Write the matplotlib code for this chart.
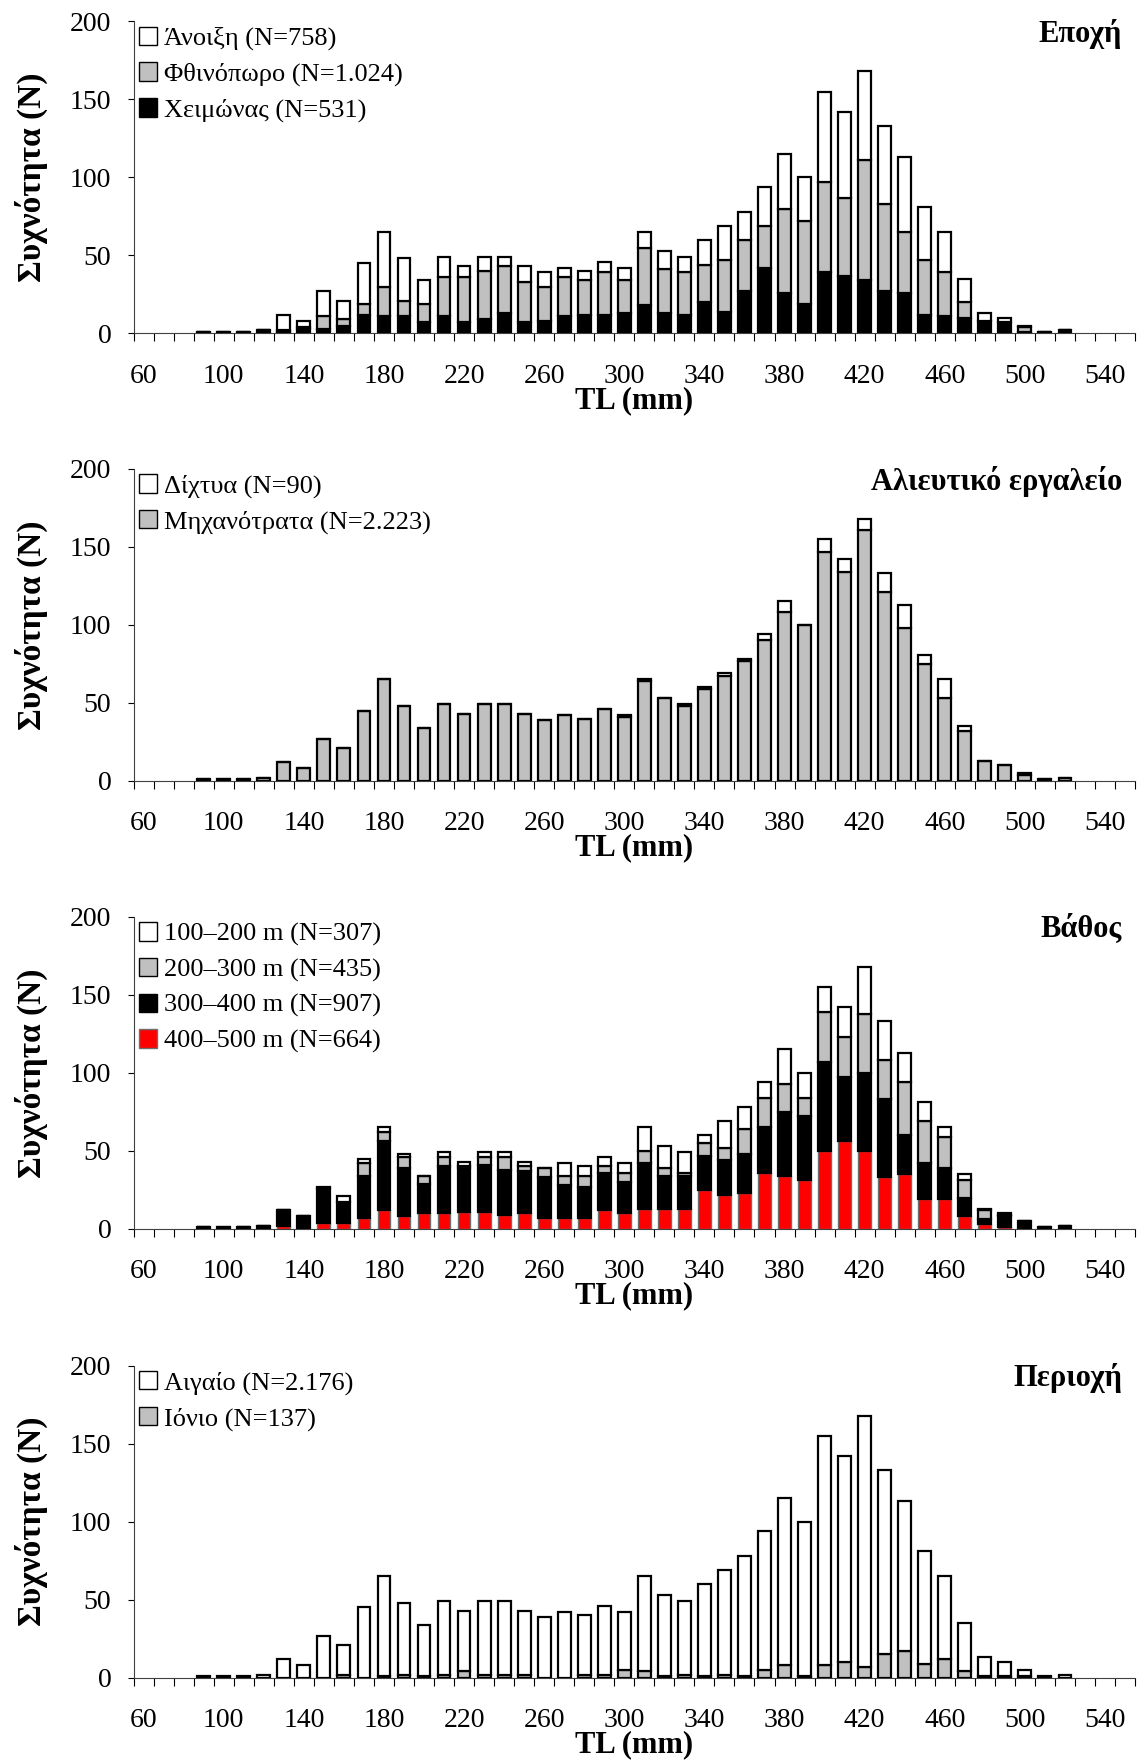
import numpy as np
import matplotlib
matplotlib.use("Agg")
import matplotlib.pyplot as plt

plt.rcParams['font.family'] = ['Liberation Serif', 'DejaVu Serif']

# length classes (mm), 10 mm bins
tl = np.arange(90, 530, 10)
axis_labels = [60, 100, 140, 180, 220, 260, 300, 340, 380, 420, 460, 500, 540]

# Season
winter = [1, 1, 1, 2, 1, 3, 3, 5, 12, 11, 11, 7, 11, 7, 9, 13, 7, 8, 11, 12, 12, 13,
          18, 13, 12, 20, 14, 27, 42, 26, 19, 39, 37, 34, 27, 26, 12, 11, 10, 8, 7, 1, 1, 2]
autumn = [0, 0, 0, 0, 1, 1, 8, 4, 7, 19, 10, 12, 25, 29, 31, 30, 26, 22, 25, 22, 27, 21,
          37, 28, 27, 24, 33, 33, 27, 54, 53, 58, 50, 77, 56, 39, 35, 28, 10, 0, 0, 3, 0, 0]
spring = [0, 0, 0, 0, 10, 4, 16, 12, 26, 35, 27, 15, 13, 7, 9, 6, 10, 9, 6, 6, 7, 8,
          10, 12, 10, 16, 22, 18, 25, 35, 28, 58, 55, 57, 50, 48, 34, 26, 15, 5, 3, 1, 0, 0]

# Fishing gear
trawl = [1, 1, 1, 2, 12, 8, 27, 21, 45, 65, 48, 34, 49, 43, 49, 49, 43, 39, 42, 40, 46, 41,
         64, 53, 48, 59, 67, 77, 90, 108, 100, 147, 134, 161, 121, 98, 75, 53, 32, 13, 10, 4, 1, 2]
nets = [0, 0, 0, 0, 0, 0, 0, 0, 0, 0, 0, 0, 0, 0, 0, 0, 0, 0, 0, 0, 0, 1,
        1, 0, 1, 1, 2, 1, 4, 7, 0, 8, 8, 7, 12, 15, 6, 12, 3, 0, 0, 1, 0, 0]

# Depth
d400 = [0, 0, 0, 0, 2, 0, 4, 4, 7, 12, 8, 10, 10, 11, 11, 9, 10, 7, 7, 7, 12, 10,
        13, 13, 13, 25, 22, 23, 36, 34, 31, 50, 56, 50, 33, 35, 19, 19, 8, 3, 1, 0, 0, 0]
d300 = [1, 0, 1, 2, 10, 8, 22, 13, 27, 44, 31, 19, 30, 28, 30, 29, 27, 26, 21, 20, 24, 20,
        29, 21, 21, 22, 22, 25, 29, 41, 41, 57, 41, 50, 50, 25, 23, 20, 12, 3, 7, 5, 1, 2]
d200 = [0, 1, 0, 0, 0, 0, 0, 0, 8, 6, 7, 5, 6, 1, 5, 8, 3, 6, 6, 7, 4, 6,
        8, 5, 2, 8, 8, 16, 19, 18, 12, 32, 26, 38, 25, 34, 27, 20, 11, 6, 1, 0, 0, 0]
d100 = [0, 0, 0, 0, 0, 0, 1, 4, 3, 3, 2, 0, 3, 3, 3, 3, 3, 0, 8, 6, 6, 6,
        15, 14, 13, 5, 17, 14, 10, 22, 16, 16, 19, 30, 25, 19, 12, 6, 4, 1, 1, 0, 0, 0]

# Area
ionian = [0, 0, 0, 0, 0, 0, 0, 2, 0, 1, 2, 1, 2, 4, 2, 2, 2, 0, 0, 2, 2, 5,
          4, 1, 2, 1, 2, 1, 5, 8, 1, 8, 10, 7, 15, 17, 9, 12, 4, 1, 1, 1, 0, 0]
aegean = [1, 1, 1, 2, 12, 8, 27, 19, 45, 64, 46, 33, 47, 39, 47, 47, 41, 39, 42, 38, 44, 37,
          61, 52, 47, 59, 67, 77, 89, 107, 99, 147, 132, 161, 118, 96, 72, 53, 31, 12, 9, 4, 1, 2]

GRAY = '#c0c0c0'
RED = '#ff0000'

panels = [
    ("Εποχή",
     [(winter, '#000000', 'black', "Χειμώνας (N=531)"),
      (autumn, GRAY, 'black', "Φθινόπωρο (N=1.024)"),
      (spring, 'white', 'black', "Άνοιξη (N=758)")]),
    ("Αλιευτικό εργαλείο",
     [(trawl, GRAY, 'black', "Μηχανότρατα (N=2.223)"),
      (nets, 'white', 'black', "Δίχτυα (N=90)")]),
    ("Βάθος",
     [(d400, RED, '#6e6e6e', "400–500 m (N=664)"),
      (d300, '#000000', 'black', "300–400 m (N=907)"),
      (d200, GRAY, 'black', "200–300 m (N=435)"),
      (d100, 'white', 'black', "100–200 m (N=307)")]),
    ("Περιοχή",
     [(ionian, GRAY, 'black', "Ιόνιο (N=137)"),
      (aegean, 'white', 'black', "Αιγαίο (N=2.176)")]),
]

fig = plt.figure(figsize=(11.39, 17.6), dpi=100)
bottoms = [0.8106, 0.5563, 0.3018, 0.0468]

for (title, series), b in zip(panels, bottoms):
    ax = fig.add_axes([0.1173, b, 0.8792, 0.1773])
    base = np.zeros(len(tl))
    handles = []
    for vals, fc, ec, lab in series:
        vals = np.array(vals)
        lw = 1.0 if fc == RED else 1.6
        bars = ax.bar(tl, vals, width=6.4, bottom=base, color=fc,
                      edgecolor=ec, linewidth=lw, label=lab, zorder=3)
        handles.append(bars)
        base = base + vals

    ax.set_xlim(55, 555)
    ax.set_ylim(0, 200)
    ax.set_yticks([0, 50, 100, 150, 200])
    ax.tick_params(axis='y', direction='out', length=4, width=0.8, pad=12, labelsize=20)

    # ticks between categories, labels at category centres
    ax.set_xticks(np.arange(55, 560, 10))
    ax.set_xticklabels([])
    ax.tick_params(axis='x', which='major', direction='out', length=6, width=0.8)
    ax.set_xticks(axis_labels, minor=True)
    ax.set_xticklabels([str(v) for v in axis_labels], minor=True)
    ax.tick_params(axis='x', which='minor', length=0, pad=22, labelsize=20)

    for s in ['top', 'right']:
        ax.spines[s].set_visible(False)
    for s in ['left', 'bottom']:
        ax.spines[s].set_linewidth(0.8)
        ax.spines[s].set_color('#404040')

    ax.set_xlabel("TL (mm)", fontsize=22, fontweight='bold')
    ax.xaxis.set_label_coords(0.5, -0.168)
    ax.set_ylabel("Συχνότητα (N)", fontsize=24, fontweight='bold')
    ax.yaxis.set_label_coords(-0.085, 0.5)

    ax.text(0.987, 0.96, title, transform=ax.transAxes, ha='right', va='center',
            fontsize=22, fontweight='bold')

    leg = ax.legend(handles[::-1], [h.get_label() for h in handles[::-1]],
                    loc='upper left', frameon=False, fontsize=19,
                    handlelength=0.7, handleheight=0.7, handletextpad=0.25,
                    labelspacing=0.45, borderaxespad=0.05, borderpad=0.15)
    for p in leg.get_patches():
        p.set_linewidth(1.0)

fig.savefig("out.png", dpi=100)
